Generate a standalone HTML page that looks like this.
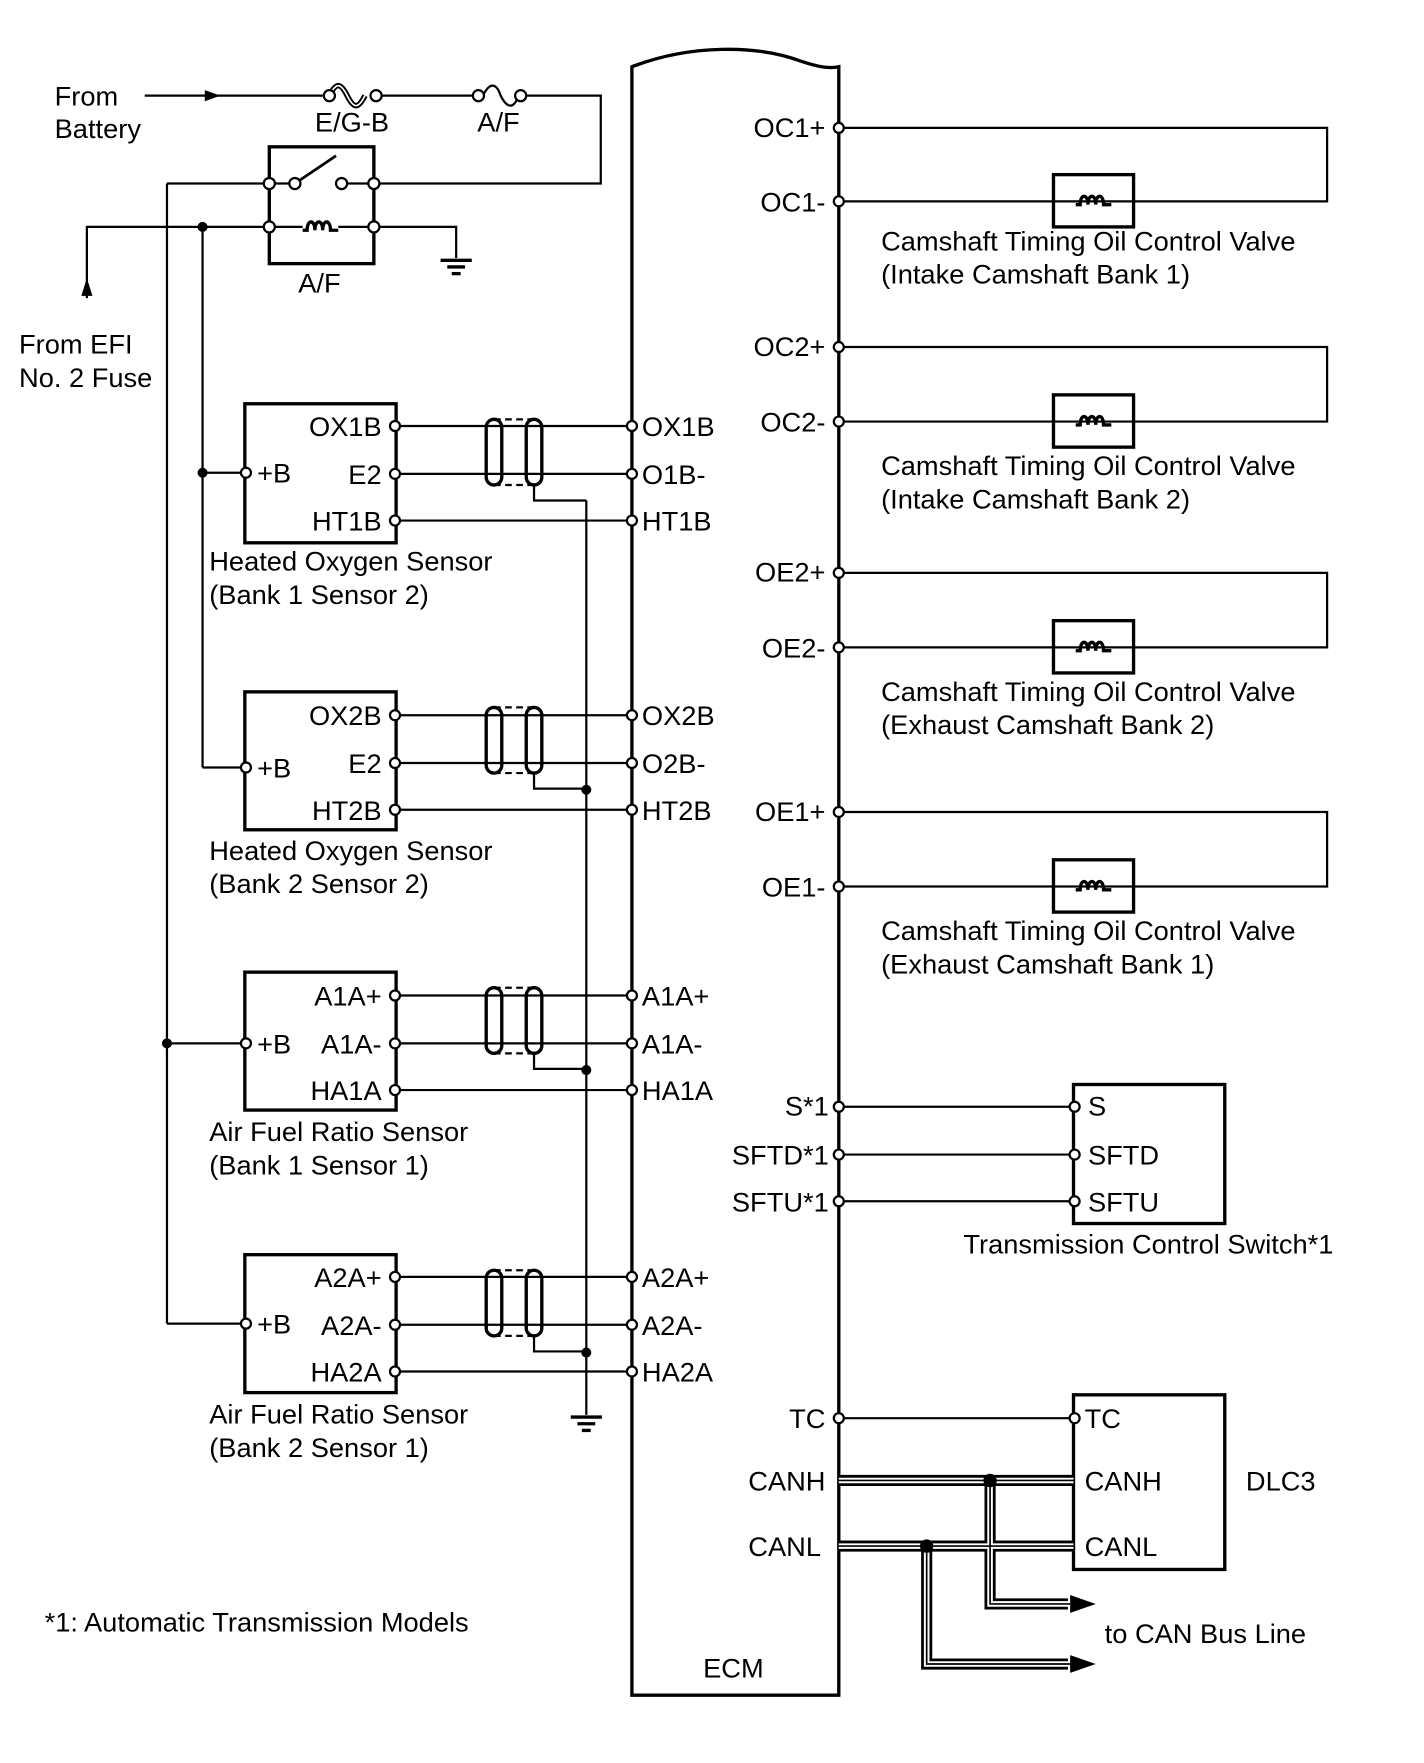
<!DOCTYPE html>
<html><head><meta charset="utf-8"><style>
html,body{margin:0;padding:0;background:#fff}
svg{display:block}
text{font-family:"Liberation Sans",Arial,sans-serif;font-size:24.5px;fill:#000}
</style></head><body>
<svg width="1424" height="1763" viewBox="0 0 1280 1585" xmlns="http://www.w3.org/2000/svg">
<defs>
<g id="coil"><path d="M-16,0 h4 c0,-10 7,-10 7,0 c0,-10 7,-10 7,0 c0,-10 7,-10 7,0 h7" fill="none" stroke="#000" stroke-width="3"/></g>
<g id="gnd"><line x1="-14" y1="0" x2="14" y2="0" stroke="#000" stroke-width="3"/><line x1="-8" y1="6" x2="8" y2="6" stroke="#000" stroke-width="3"/><line x1="-4" y1="12" x2="4" y2="12" stroke="#000" stroke-width="3"/></g>
</defs>
<g fill="none" stroke="#000" stroke-width="2">
<path d="M568,1524 V60 C620,40 680,40 720,55 C735,60 745,62 754,60 V1524 Z" stroke-width="3"/>
<line x1="130" y1="86" x2="290" y2="86"/>
<line x1="340" y1="86" x2="428" y2="86"/>
<polyline points="470,86 540,86 540,165 336,165"/>
<path d="M296,86 c6,-12 10,-12 16,0 c6,12 10,12 16,0" stroke-width="5"/>
<path d="M296,86 c6,-12 10,-12 16,0 c6,12 10,12 16,0" stroke="#fff" stroke-width="1.5"/>
<path d="M434,86 c6,-12 12,-12 16,0 c6,12 12,12 16,0"/>
<rect x="242" y="132" width="94" height="105" stroke-width="3"/>
<line x1="150" y1="165" x2="242" y2="165"/>
<line x1="242" y1="165" x2="262" y2="165"/>
<line x1="265" y1="165" x2="302" y2="140" stroke-width="2.5"/>
<line x1="310" y1="165" x2="336" y2="165"/>
<line x1="242" y1="204" x2="272" y2="204"/>
<line x1="304" y1="204" x2="336" y2="204"/>
<polyline points="336,204 410,204 410,232"/>
<polyline points="78,268 78,204 242,204"/>
<line x1="182" y1="204" x2="182" y2="690"/>
<line x1="150" y1="165" x2="150" y2="1190"/>
<line x1="182" y1="425" x2="220" y2="425"/>
<line x1="182" y1="690" x2="220" y2="690"/>
<line x1="150" y1="938" x2="220" y2="938"/>
<line x1="150" y1="1190" x2="220" y2="1190"/>
<rect x="220" y="363" width="136" height="125" stroke-width="3"/>
<rect x="220" y="622" width="136" height="124" stroke-width="3"/>
<rect x="220" y="874" width="136" height="124" stroke-width="3"/>
<rect x="220" y="1128" width="136" height="124" stroke-width="3"/>
<line x1="527" y1="450" x2="527" y2="1272"/>
<polyline points="754,115 1193,115 1193,181 754,181"/>
<polyline points="754,312 1193,312 1193,379 754,379"/>
<polyline points="754,515 1193,515 1193,582 754,582"/>
<polyline points="754,730 1193,730 1193,797 754,797"/>
<rect x="947" y="157" width="72" height="47" stroke-width="3"/>
<rect x="947" y="355" width="72" height="47" stroke-width="3"/>
<rect x="947" y="558" width="72" height="47" stroke-width="3"/>
<rect x="947" y="773" width="72" height="47" stroke-width="3"/>
<line x1="754" y1="995" x2="965" y2="995"/>
<line x1="754" y1="1038" x2="965" y2="1038"/>
<line x1="754" y1="1080" x2="965" y2="1080"/>
<rect x="965" y="975" width="136" height="125" stroke-width="3"/>
<line x1="754" y1="1275" x2="965" y2="1275"/>
<rect x="965" y="1254" width="136" height="157" stroke-width="3"/>
</g>
<g fill="none" stroke="#000">
<g id="sh">
<rect x="437" y="377" width="14" height="59" rx="7" stroke-width="3"/>
<rect x="473" y="377" width="14" height="59" rx="7" stroke-width="3"/>
<line x1="444" y1="377" x2="480" y2="377" stroke-width="2" stroke-dasharray="6,4"/>
<line x1="444" y1="436" x2="480" y2="436" stroke-width="2" stroke-dasharray="6,4"/>
<polyline points="480,436 480,450 527,450" stroke-width="2"/>
</g>
<use href="#sh" y="259"/>
<use href="#sh" y="511"/>
<use href="#sh" y="765"/>
</g>
<g stroke="#000" stroke-width="2">
<line x1="356" y1="383" x2="568" y2="383"/><line x1="356" y1="426" x2="568" y2="426"/><line x1="356" y1="468" x2="568" y2="468"/>
<line x1="356" y1="643" x2="568" y2="643"/><line x1="356" y1="686" x2="568" y2="686"/><line x1="356" y1="728" x2="568" y2="728"/>
<line x1="356" y1="895" x2="568" y2="895"/><line x1="356" y1="938" x2="568" y2="938"/><line x1="356" y1="980" x2="568" y2="980"/>
<line x1="356" y1="1148" x2="568" y2="1148"/><line x1="356" y1="1191" x2="568" y2="1191"/><line x1="356" y1="1233" x2="568" y2="1233"/>
</g>
<use href="#coil" x="288" y="207"/>
<use href="#coil" x="983" y="184"/>
<use href="#coil" x="983" y="382"/>
<use href="#coil" x="983" y="585"/>
<use href="#coil" x="983" y="800"/>
<use href="#gnd" x="410" y="234"/>
<use href="#gnd" x="527" y="1274"/>
<polygon points="198,86 184,81 184,91" fill="#000"/>
<polygon points="78,252 73,268 83,268" fill="#000" transform="translate(0,-2)"/>
<g fill="none">
<g stroke="#000" stroke-width="10">
<line x1="754" y1="1331" x2="965" y2="1331"/><line x1="754" y1="1390" x2="965" y2="1390"/>
<polyline points="890,1331 890,1442 960,1442"/><polyline points="833,1390 833,1496 960,1496"/>
</g>
<g stroke="#fff" stroke-width="5">
<line x1="754" y1="1331" x2="965" y2="1331"/><line x1="754" y1="1390" x2="965" y2="1390"/>
<polyline points="890,1331 890,1442 962,1442"/><polyline points="833,1390 833,1496 962,1496"/>
</g>
<g stroke="#000" stroke-width="1.5">
<line x1="754" y1="1331" x2="965" y2="1331"/><line x1="754" y1="1390" x2="965" y2="1390"/>
<polyline points="890,1331 890,1442 962,1442"/><polyline points="833,1390 833,1496 962,1496"/>
</g>
</g>
<polygon points="985,1442 962,1434 962,1450" fill="#000"/>
<polygon points="985,1496 962,1488 962,1504" fill="#000"/>
<circle cx="890" cy="1331" r="6" fill="#000"/><circle cx="833" cy="1390" r="6" fill="#000"/>
<g fill="#000">
<circle cx="182" cy="204" r="4.5"/><circle cx="182" cy="425" r="4.5"/><circle cx="150" cy="938" r="4.5"/>
<circle cx="527" cy="710" r="4.5"/><circle cx="527" cy="962" r="4.5"/><circle cx="527" cy="1216" r="4.5"/>
</g>
<g fill="#fff" stroke="#000" stroke-width="2">
<circle cx="296" cy="86" r="5"/><circle cx="338" cy="86" r="5"/><circle cx="430" cy="86" r="5"/><circle cx="468" cy="86" r="5"/>
<circle cx="242" cy="165" r="5"/><circle cx="265" cy="165" r="5"/><circle cx="307" cy="165" r="5"/><circle cx="336" cy="165" r="5"/>
<circle cx="242" cy="204" r="5"/><circle cx="336" cy="204" r="5"/>
<circle cx="221" cy="425" r="4.5"/><circle cx="221" cy="690" r="4.5"/><circle cx="221" cy="938" r="4.5"/><circle cx="221" cy="1190" r="4.5"/>
<circle cx="355" cy="383" r="4.5"/><circle cx="355" cy="426" r="4.5"/><circle cx="355" cy="468" r="4.5"/>
<circle cx="355" cy="643" r="4.5"/><circle cx="355" cy="686" r="4.5"/><circle cx="355" cy="728" r="4.5"/>
<circle cx="355" cy="895" r="4.5"/><circle cx="355" cy="938" r="4.5"/><circle cx="355" cy="980" r="4.5"/>
<circle cx="355" cy="1148" r="4.5"/><circle cx="355" cy="1191" r="4.5"/><circle cx="355" cy="1233" r="4.5"/>
<circle cx="568" cy="383" r="4.5"/><circle cx="568" cy="426" r="4.5"/><circle cx="568" cy="468" r="4.5"/>
<circle cx="568" cy="643" r="4.5"/><circle cx="568" cy="686" r="4.5"/><circle cx="568" cy="728" r="4.5"/>
<circle cx="568" cy="895" r="4.5"/><circle cx="568" cy="938" r="4.5"/><circle cx="568" cy="980" r="4.5"/>
<circle cx="568" cy="1148" r="4.5"/><circle cx="568" cy="1191" r="4.5"/><circle cx="568" cy="1233" r="4.5"/>
<circle cx="754" cy="115" r="4.5"/><circle cx="754" cy="181" r="4.5"/><circle cx="754" cy="312" r="4.5"/><circle cx="754" cy="379" r="4.5"/>
<circle cx="754" cy="515" r="4.5"/><circle cx="754" cy="582" r="4.5"/><circle cx="754" cy="730" r="4.5"/><circle cx="754" cy="797" r="4.5"/>
<circle cx="754" cy="995" r="4.5"/><circle cx="754" cy="1038" r="4.5"/><circle cx="754" cy="1080" r="4.5"/><circle cx="754" cy="1275" r="4.5"/>
<circle cx="966" cy="995" r="4.5"/><circle cx="966" cy="1038" r="4.5"/><circle cx="966" cy="1080" r="4.5"/><circle cx="966" cy="1275" r="4.5"/>
</g>
<text x="49" y="95">From</text><text x="49" y="124">Battery</text>
<text x="283" y="118">E/G-B</text><text x="429" y="118">A/F</text>
<text x="268" y="263">A/F</text>
<text x="17" y="318">From EFI</text><text x="17" y="348">No. 2 Fuse</text>
<g text-anchor="end">
<text x="343" y="392">OX1B</text><text x="343" y="435">E2</text><text x="343" y="477">HT1B</text>
<text x="343" y="652">OX2B</text><text x="343" y="695">E2</text><text x="343" y="737">HT2B</text>
<text x="343" y="904">A1A+</text><text x="343" y="947">A1A-</text><text x="343" y="989">HA1A</text>
<text x="343" y="1157">A2A+</text><text x="343" y="1200">A2A-</text><text x="343" y="1242">HA2A</text>
<text x="742" y="123">OC1+</text><text x="742" y="190">OC1-</text><text x="742" y="320">OC2+</text><text x="742" y="388">OC2-</text>
<text x="742" y="523">OE2+</text><text x="742" y="591">OE2-</text><text x="742" y="738">OE1+</text><text x="742" y="806">OE1-</text>
<text x="745" y="1003">S*1</text><text x="745" y="1047">SFTD*1</text><text x="745" y="1089">SFTU*1</text>
<text x="742" y="1284">TC</text><text x="742" y="1340">CANH</text><text x="738" y="1399">CANL</text>
</g>
<text x="231" y="434">+B</text><text x="231" y="699">+B</text><text x="231" y="947">+B</text><text x="231" y="1199">+B</text>
<text x="577" y="392">OX1B</text><text x="577" y="435">O1B-</text><text x="577" y="477">HT1B</text>
<text x="577" y="652">OX2B</text><text x="577" y="695">O2B-</text><text x="577" y="737">HT2B</text>
<text x="577" y="904">A1A+</text><text x="577" y="947">A1A-</text><text x="577" y="989">HA1A</text>
<text x="577" y="1157">A2A+</text><text x="577" y="1200">A2A-</text><text x="577" y="1242">HA2A</text>
<text x="188" y="513">Heated Oxygen Sensor</text><text x="188" y="543">(Bank 1 Sensor 2)</text>
<text x="188" y="773">Heated Oxygen Sensor</text><text x="188" y="803">(Bank 2 Sensor 2)</text>
<text x="188" y="1026">Air Fuel Ratio Sensor</text><text x="188" y="1056">(Bank 1 Sensor 1)</text>
<text x="188" y="1280">Air Fuel Ratio Sensor</text><text x="188" y="1310">(Bank 2 Sensor 1)</text>
<text x="792" y="225">Camshaft Timing Oil Control Valve</text><text x="792" y="255">(Intake Camshaft Bank 1)</text>
<text x="792" y="427">Camshaft Timing Oil Control Valve</text><text x="792" y="457">(Intake Camshaft Bank 2)</text>
<text x="792" y="630">Camshaft Timing Oil Control Valve</text><text x="792" y="660">(Exhaust Camshaft Bank 2)</text>
<text x="792" y="845">Camshaft Timing Oil Control Valve</text><text x="792" y="875">(Exhaust Camshaft Bank 1)</text>
<text x="978" y="1003">S</text><text x="978" y="1047">SFTD</text><text x="978" y="1089">SFTU</text>
<text x="866" y="1127">Transmission Control Switch*1</text>
<text x="975" y="1284">TC</text><text x="975" y="1340">CANH</text><text x="975" y="1399">CANL</text>
<text x="1120" y="1340">DLC3</text>
<text x="993" y="1477">to CAN Bus Line</text>
<text x="632" y="1508">ECM</text>
<text x="40" y="1467">*1: Automatic Transmission Models</text>
</svg>
</body></html>
